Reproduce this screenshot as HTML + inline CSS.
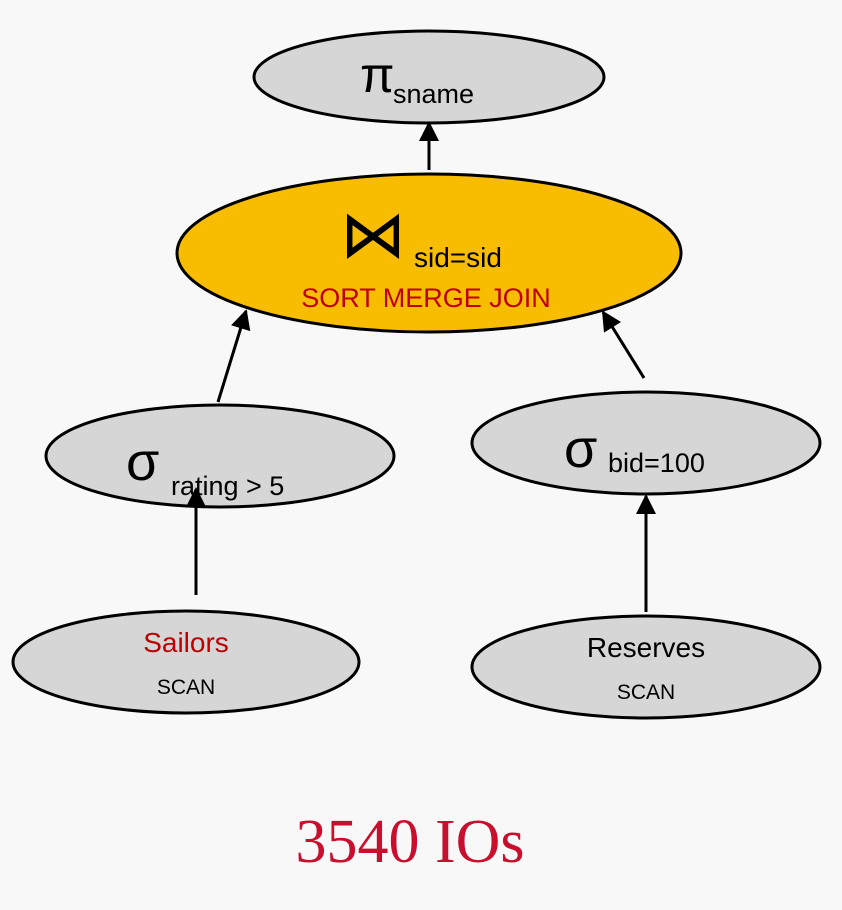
<!DOCTYPE html>
<html><head><style>
html,body{margin:0;padding:0;background:#f8f8f8;}
svg{display:block;}
text{font-family:"Liberation Sans","DejaVu Sans",sans-serif;}
</style></head><body>
<svg width="842" height="910" viewBox="0 0 842 910" xmlns="http://www.w3.org/2000/svg">
<defs><marker id="a" markerWidth="10" markerHeight="10" refX="8" refY="5" orient="auto" markerUnits="userSpaceOnUse"><path d="M0,0 L10,5 L0,10 z" fill="#000"/></marker>
<marker id="b" viewBox="0 0 10 10" markerWidth="22" markerHeight="20" refX="9" refY="5" orient="auto" markerUnits="userSpaceOnUse"><path d="M0,0 L10,5 L0,10 z" fill="#000"/></marker></defs>
<g stroke="#000" stroke-width="3">
<ellipse cx="429" cy="77" rx="175" ry="46" fill="#d6d6d6"/>
<ellipse cx="429" cy="253" rx="252" ry="79" fill="#f8bc00"/>
<ellipse cx="220" cy="456" rx="174" ry="51" fill="#d6d6d6"/>
<ellipse cx="646" cy="443" rx="174" ry="51" fill="#d6d6d6"/>
<ellipse cx="186" cy="662" rx="173" ry="51" fill="#d6d6d6"/>
<ellipse cx="646" cy="667" rx="174" ry="51" fill="#d6d6d6"/>
<line x1="429" y1="170" x2="429" y2="123" marker-end="url(#b)"/>
<line x1="218" y1="402" x2="246" y2="311" marker-end="url(#b)"/>
<line x1="644" y1="378" x2="603" y2="312" marker-end="url(#b)"/>
<line x1="196" y1="595" x2="196" y2="489" marker-end="url(#b)"/>
<line x1="646" y1="612" x2="646" y2="496" marker-end="url(#b)"/>
</g>
<text x="360" y="92" font-size="50" font-family="DejaVu Sans">π</text>
<text x="393" y="103" font-size="27">sname</text>
<text x="340" y="257" font-size="66" font-family="DejaVu Sans">⋈</text>
<text x="414" y="267" font-size="28">sid=sid</text>
<text x="426" y="307" font-size="27" fill="#c00000" text-anchor="middle">SORT MERGE JOIN</text>
<text x="126" y="480" font-size="54" font-family="DejaVu Sans">σ</text>
<text x="171" y="495" font-size="27">rating &gt; 5</text>
<text x="564" y="467" font-size="54" font-family="DejaVu Sans">σ</text>
<text x="608" y="472" font-size="27">bid=100</text>
<text x="186" y="652" font-size="28" fill="#c00000" text-anchor="middle">Sailors</text>
<text x="186" y="694" font-size="21" text-anchor="middle">SCAN</text>
<text x="646" y="657" font-size="28" text-anchor="middle">Reserves</text>
<text x="646" y="699" font-size="21" text-anchor="middle">SCAN</text>
<text x="410" y="862" font-size="62" fill="#c8102e" text-anchor="middle" font-family="Liberation Serif,serif" style="font-family:'Liberation Serif',serif">3540 IOs</text>
</svg>
</body></html>
